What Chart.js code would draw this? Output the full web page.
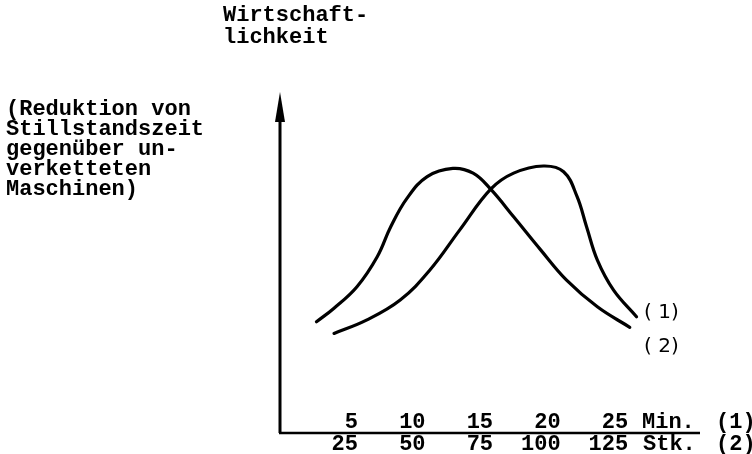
<!DOCTYPE html>
<html>
<head>
<meta charset="utf-8">
<script src="https://cdn.jsdelivr.net/npm/chart.js@4.4.1/dist/chart.umd.min.js"></script>
<style>
  html, body { margin: 0; padding: 0; background: #fff; }
  #wrap { width: 752px; height: 454px; }
</style>
</head>
<body>
<div id="wrap"><canvas id="wirtChart" width="752" height="454"></canvas></div>
<script>
// Kurve (1): Min. / Kurve (2): Stk.
const minTicks = [5, 10, 15, 20, 25];
const stkTicks = ['25', '50', '75', '100', '125'];

const curveAX = [2.7, 4.0, 5.7, 7.2, 8.2, 9.4, 10.9, 12.8, 14.3, 15.6, 17.3, 19.3, 21.2, 23.5, 25.9];
const curveAY = [32.6, 36.6, 42.9, 51.7, 60.5, 68.8, 75.2, 77.6, 76.2, 71.5, 63.4, 53.7, 44.9, 37.0, 31.0];

const curveBX = [4.0, 6.4, 8.9, 11.1, 13.3, 15.6, 17.3, 19.5, 21.0, 22.0, 22.7, 23.5, 24.7, 26.4];
const curveBY = [29.2, 33.1, 39.0, 47.8, 59.5, 71.5, 76.2, 78.3, 76.6, 69.3, 60.5, 50.7, 41.9, 34.1];

const yTitle = ['Wirtschaft-', 'lichkeit'];
const sideNote = ['(Reduktion von', 'Stillstandszeit', 'gegenüber un-', 'verketteten', 'Maschinen)'];

const MONO = "bold 22px 'Courier New', 'Liberation Mono', monospace";

function toPoints(xs, ys) {
  return xs.map((x, i) => ({ x, y: ys[i] }));
}

const axesPlugin = {
  id: 'axesPlugin',
  afterDraw(chart) {
    const ctx = chart.ctx;
    const area = chart.chartArea;
    const sx = chart.scales.x;
    ctx.save();
    ctx.strokeStyle = '#000';
    ctx.fillStyle = '#000';

    // y-Achse mit Pfeil
    ctx.lineWidth = 3;
    ctx.beginPath();
    ctx.moveTo(area.left, area.bottom);
    ctx.lineTo(area.left, area.top + 12);
    ctx.stroke();
    ctx.beginPath();
    ctx.moveTo(area.left, area.top);
    ctx.lineTo(area.left - 5, area.top + 30);
    ctx.lineTo(area.left + 5, area.top + 30);
    ctx.closePath();
    ctx.fill();

    // x-Achse
    ctx.lineWidth = 2.5;
    ctx.beginPath();
    ctx.moveTo(area.left - 1, area.bottom);
    ctx.lineTo(area.right, area.bottom);
    ctx.stroke();

    // Achsbeschriftung (zwei Zeilen)
    ctx.font = MONO;
    ctx.textAlign = 'right';
    ctx.textBaseline = 'alphabetic';
    minTicks.forEach((v, i) => {
      const px = sx.getPixelForValue(v) + 10.5;
      ctx.fillText(String(v), px, area.bottom - 5);
      ctx.fillText(stkTicks[i], px, area.bottom + 17);
    });
    ctx.textAlign = 'left';
    ctx.fillText('Min.', 642, area.bottom - 5);
    ctx.fillText('(1)', 716, area.bottom - 5);
    ctx.fillText('Stk.', 643, area.bottom + 17);
    ctx.fillText('(2)', 716, area.bottom + 17);

    // Titel der y-Achse
    yTitle.forEach((t, i) => ctx.fillText(t, 223, 21 + i * 22));
    sideNote.forEach((t, i) => ctx.fillText(t, 6, 115 + i * 20));

    // Kurvenbezeichnungen
    ctx.font = "20px 'DejaVu Sans', sans-serif";
    ctx.fillText('( 1)', 644, 318);
    ctx.fillText('( 2)', 644, 352);
    ctx.restore();
  }
};

new Chart(document.getElementById('wirtChart'), {
  type: 'scatter',
  data: {
    datasets: [
      {
        label: 'Kurve (1)',
        data: toPoints(curveAX, curveAY),
        showLine: true,
        borderColor: '#000',
        borderWidth: 3.2,
        pointRadius: 0,
        tension: 0.4,
        borderCapStyle: 'round'
      },
      {
        label: 'Kurve (2)',
        data: toPoints(curveBX, curveBY),
        showLine: true,
        borderColor: '#000',
        borderWidth: 3.2,
        pointRadius: 0,
        tension: 0.4,
        borderCapStyle: 'round'
      }
    ]
  },
  options: {
    responsive: false,
    animation: false,
    layout: { padding: { left: 280, right: 52, top: 92, bottom: 21 } },
    plugins: { legend: { display: false }, tooltip: { enabled: false } },
    scales: {
      x: { type: 'linear', display: false, min: 0, max: 31.1 },
      y: { type: 'linear', display: false, min: 0, max: 100 }
    }
  },
  plugins: [axesPlugin]
});
</script>
</body>
</html>
